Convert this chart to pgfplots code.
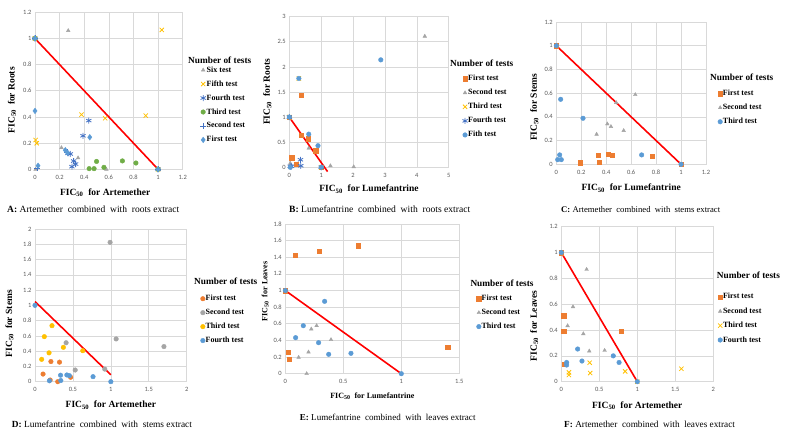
\documentclass[border=0pt]{standalone}
\usepackage{pgfplots}
\pgfplotsset{compat=1.18}
\usepackage{fontspec}
\setmainfont{Liberation Serif}
\newfontfamily\tickfont{Carlito}
\definecolor{gridc}{HTML}{D9D9D9}
\definecolor{tickc}{HTML}{595959}
\definecolor{xorange}{HTML}{ED7D31}
\definecolor{xgray}{HTML}{A5A5A5}
\definecolor{xyellow}{HTML}{FFC000}
\definecolor{xblue}{HTML}{5B9BD5}
\definecolor{xdblue}{HTML}{4472C4}
\definecolor{xgreen}{HTML}{70AD47}
\pgfplotsset{
 excel/.style={
   scale only axis, clip=false,
   grid=major, grid style={draw=gridc, line width=0.6pt},
   axis line style={draw=gridc, line width=0.6pt},
   major tick length=0pt,
   tick label style={font=\tickfont\fontsize{6.5}{7}\selectfont, text=tickc},
   /pgf/number format/assume math mode=true,
   xticklabel style={yshift=-2.5pt},
   label style={font=\bfseries\fontsize{9.5}{11}\selectfont},
   legend style={draw=none, fill=none, anchor=north west, inner sep=0pt,
     font=\bfseries\fontsize{8}{9}\selectfont, row sep=5.5pt, nodes={inner sep=0.5pt}},
   legend cell align=left,
   legend image code/.code={\draw[##1,only marks] plot coordinates {(0pt,0pt)};},
 },
 ylab/.style 2 args={ylabel style={at={(axis description cs:#1,#2)}, anchor=center}},
 xlab/.style 2 args={xlabel style={at={(axis description cs:#1,#2)}, anchor=center}},
 redline/.style={color=red, line width=1.6pt, no marks, forget plot},
 sTri/.style={only marks, mark=triangle*, mark size=2.1pt, color=xgray},
 sX/.style={only marks, mark=x, mark size=3pt, color=xyellow, mark options={line width=0.8pt}},
 sAst/.style={only marks, mark=asterisk, mark size=3pt, color=xdblue, mark options={line width=0.8pt}},
 sGreen/.style={only marks, mark=*, mark size=2.3pt, color=xgreen},
 sPlus/.style={only marks, mark=+, mark size=3pt, color=xdblue, mark options={line width=0.8pt}},
 sDia/.style={only marks, mark=diamond*, mark size=2.8pt, color=xblue},
 sSq/.style={only marks, mark=square*, mark size=2.2pt, color=xorange},
 sCirc/.style={only marks, mark=*, mark size=2.3pt, color=xblue},
 sOrC/.style={only marks, mark=*, mark size=2.3pt, color=xorange},
 sGrC/.style={only marks, mark=*, mark size=2.3pt, color=xgray},
 sYeC/.style={only marks, mark=*, mark size=2.3pt, color=xyellow},
}
\begin{document}
\begin{tikzpicture}
\path[use as bounding box] (0,0) rectangle (786pt,435pt);
% ---------------- A
\begin{axis}[excel, at={(35pt,265.7pt)}, anchor=south west, width=147.7pt, height=157pt,
  xmin=0, xmax=1.2, ymin=0, ymax=1.2, xtick={0,0.2,...,1.2}, ytick={0,0.2,...,1.2},
  xlabel={FIC\textsubscript{50}\ \ for Artemether}, ylabel={FIC\textsubscript{50}\ \ for Roots},
  ylab={-0.156}{0.44}, xlab={0.475}{-0.151},
  legend style={at={(axis description cs:1.117,0.659)}, row sep=5.9pt}]
\addplot[sTri] coordinates {(0.27,1.06) (0.215,0.165) (0.35,0.087) (0.58,0) (0.005,0) (0,1) (1,0)};
\addlegendentry{Six test}
\addplot[sX] coordinates {(1.03,1.065) (0.378,0.418) (0.57,0.39) (0.9,0.41) (0.005,0.224) (0.014,0.199) (0,1) (1,0)};
\addlegendentry{Fifth test}
\addplot[sAst] coordinates {(0.437,0.372) (0.39,0.256) (0.268,0.122) (0.287,0.117) (0.314,0.063) (0.33,0.04) (0.30,0.02) (0,1) (1,0)};
\addlegendentry{Fourth test}
\addplot[sGreen] coordinates {(0.44,0.005) (0.48,0.005) (0.50,0.06) (0.56,0.015) (0.71,0.064) (0.82,0.048) (0,1) (1,0)};
\addlegendentry{Third test}
\addplot[sPlus] coordinates {(0.26,0.13) (0.02,0.01) (0,1) (1,0)};
\addlegendentry{Second test}
\addplot[sDia] coordinates {(0,0.446) (0.445,0.245) (0.025,0.027) (0.246,0.146) (0.265,0.125) (0,1) (1,0)};
\addlegendentry{First test}
\addplot[redline] coordinates {(0,1) (1,0)};
\end{axis}
% ---------------- B
\begin{axis}[excel, at={(289.3pt,267.7pt)}, anchor=south west, width=159.4pt, height=150.6pt,
  xmin=0, xmax=5, ymin=0, ymax=3, xtick={0,1,...,5}, ytick={0,0.5,...,3},
  xlabel={FIC\textsubscript{50}\ \ for Lumefantrine}, ylabel={FIC\textsubscript{50}\ \ for Roots},
  ylab={-0.138}{0.5}, xlab={0.5}{-0.146},
  legend style={at={(axis description cs:1.085,0.616)}, row sep=6pt}]
\addplot[sSq] coordinates {(0.38,1.44) (0.367,0.643) (0.6,0.57) (0.83,0.33) (0.08,0.195) (0.21,0.06) (0,1) (1,0)};
\addlegendentry{First test}
\addplot[sTri] coordinates {(4.25,2.61) (1.29,0.03) (2.02,0.01) (0.61,0.38) (0.03,0.08) (0,1) (1,0)};
\addlegendentry{Second test}
\addplot[sX] coordinates {(0.3,1.77) (0,1) (1,0)};
\addlegendentry{Third test}
\addplot[sAst] coordinates {(0.35,0.15) (0.36,0.03) (0.03,0.02) (0.07,0.02) (0,1) (1,0)};
\addlegendentry{Fourth test}
\addplot[sCirc] coordinates {(2.87,2.14) (0.3,1.77) (0.61,0.66) (0.9,0.43) (0.03,0.0) (0,1) (1,0)};
\addlegendentry{Fith test}
\addplot[redline] coordinates {(0,1) (1.2,-0.086)};
\end{axis}
% ---------------- C
\begin{axis}[excel, at={(556.3pt,270.7pt)}, anchor=south west, width=149.7pt, height=142.3pt,
  xmin=0, xmax=1.2, ymin=0, ymax=1.2, xtick={0,0.2,...,1.2}, ytick={0,0.2,...,1.2},
  xlabel={FIC\textsubscript{50}\ \ for Lumefantrine}, ylabel={FIC\textsubscript{50}\ \ for Stems},
  ylab={-0.147}{0.40}, xlab={0.5}{-0.169},
  legend style={at={(axis description cs:1.078,0.526)}, row sep=6pt}]
\addplot[sSq] coordinates {(0.19,0.013) (0.337,0.078) (0.345,0.02) (0.417,0.086) (0.45,0.078) (0.767,0.07) (0,1) (1,0)};
\addlegendentry{First test}
\addplot[sTri] coordinates {(0.323,0.253) (0.409,0.34) (0.438,0.318) (0.48,0.52) (0.54,0.284) (0.633,0.587) (0,1) (1,0)};
\addlegendentry{Second test}
\addplot[sCirc] coordinates {(0.035,0.548) (0.214,0.388) (0.027,0.079) (0.011,0.039) (0.04,0.039) (0.684,0.079) (0,1) (1,0)};
\addlegendentry{Third test}
\addplot[redline] coordinates {(0,1) (1,0)};
\end{axis}
% ---------------- D
\begin{axis}[excel, at={(35pt,53.3pt)}, anchor=south west, width=151.7pt, height=152.7pt,
  xmin=0, xmax=2, ymin=0, ymax=2, xtick={0,0.5,...,2}, ytick={0,0.2,...,2},
  xlabel={FIC\textsubscript{50}\ \ for Artemether}, ylabel={FIC\textsubscript{50}\ \ for Stems},
  ylab={-0.169}{0.38}, xlab={0.5}{-0.153},
  legend style={at={(axis description cs:1.090,0.571)}, row sep=5.9pt}]
\addplot[sOrC] coordinates {(0.106,0.1) (0.21,0.264) (0.323,0.256) (0.2,0.022) (0.3,0) (0.47,0.058)};
\addlegendentry{First test}
\addplot[sGrC] coordinates {(0.99,1.825) (1.07,0.56) (1.7,0.46) (0.41,0.51) (0.53,0.153) (0.92,0.165)};
\addlegendentry{Second test}
\addplot[sYeC] coordinates {(0.088,0.293) (0.123,0.59) (0.185,0.378) (0.224,0.734) (0.374,0.45) (0.63,0.406)};
\addlegendentry{Third test}
\addplot[sCirc] coordinates {(0,1) (0.19,0.012) (0.337,0.085) (0.34,0.015) (0.42,0.088) (0.453,0.079) (0.765,0.066) (1,0)};
\addlegendentry{Fourth test}
\addplot[redline] coordinates {(0,1.05) (1.0,0.09)};
\end{axis}
% ---------------- E
\begin{axis}[excel, at={(285.3pt,61.3pt)}, anchor=south west, width=174pt, height=149.7pt,
  xmin=0, xmax=1.5, ymin=0, ymax=1.8, xtick={0,0.5,...,1.5}, ytick={0,0.2,...,1.8},
  label style={font=\bfseries\fontsize{8}{9.5}\selectfont},
  xlabel={FIC\textsubscript{50}\ \ for Lumefantrine}, ylabel={FIC\textsubscript{50}\ \ for Leaves},
  ylab={-0.115}{0.55}, xlab={0.5}{-0.149},
  legend style={at={(axis description cs:1.098,0.529)}, row sep=5.9pt}]
\addplot[sSq] coordinates {(0.083,1.423) (0.293,1.476) (0.626,1.54) (0.023,0.257) (0.034,0.172) (1.4,0.32) (0,1)};
\addlegendentry{First test}
\addplot[sTri] coordinates {(0.115,0.196) (0.184,0) (0.2,0.26) (0.224,0.537) (0.27,0.577) (0.394,0.409)};
\addlegendentry{Second test}
\addplot[sCirc] coordinates {(0,1) (0.339,0.87) (0.155,0.577) (0.089,0.433) (0.287,0.373) (0.374,0.233) (0.566,0.245) (1,0)};
\addlegendentry{Third test}
\addplot[redline] coordinates {(0,1) (1,0)};
\end{axis}
% ---------------- F
\begin{axis}[excel, at={(561.3pt,53.3pt)}, anchor=south west, width=152pt, height=155pt,
  xmin=0, xmax=2, ymin=0, ymax=1.2, xtick={0,0.5,...,2}, ytick={0,0.2,...,1.2},
  xlabel={FIC\textsubscript{50}\ \ for Artemether}, ylabel={FIC\textsubscript{50}\ \ for Leaves},
  ylab={-0.178}{0.36}, xlab={0.5}{-0.155},
  legend style={at={(axis description cs:1.029,0.574)}, row sep=6.3pt}]
\addplot[sSq] coordinates {(0.03,0.51) (0.03,0.39) (0.79,0.39) (0.04,0.134) (0,1)};
\addlegendentry{First test}
\addplot[sTri] coordinates {(0.333,0.869) (0.154,0.58) (0.083,0.433) (0.29,0.371) (0.368,0.237) (0.57,0.242)};
\addlegendentry{Second test}
\addplot[sX] coordinates {(0.373,0.147) (0.38,0.067) (0.1,0.072) (0.1,0.052) (0.84,0.08) (1.58,0.1) (1,0)};
\addlegendentry{Third test}
\addplot[sCirc] coordinates {(0.215,0.253) (0.07,0.149) (0.07,0.129) (0.272,0.16) (0.684,0.2) (0.76,0.149) (0,1) (1,0)};
\addlegendentry{Fourth test}
\addplot[redline] coordinates {(0,1) (1,0)};
\end{axis}
% legend titles
\tikzset{ltitle/.style={anchor=west, inner sep=0pt, font=\bfseries\fontsize{9.3}{11}\selectfont}}
\node[ltitle] at (188pt,375pt) {Number of tests};
\node[ltitle] at (450pt,372pt) {Number of tests};
\node[ltitle] at (710pt,357.3pt) {Number of tests};
\node[ltitle] at (194pt,153.3pt) {Number of tests};
\node[ltitle] at (470.3pt,151.7pt) {Number of tests};
\node[ltitle] at (716.7pt,159.7pt) {Number of tests};
% captions
\tikzset{capt/.style={anchor=west, inner sep=0pt}}
\node[capt] at (7pt,226pt) {\resizebox{172pt}{!}{\textbf{A:} Artemether\ \ combined\ \ with\ \ roots extract}};
\node[capt] at (289pt,226pt) {\resizebox{181pt}{!}{\textbf{B:} Lumefantrine\ \ combined\ \ with\ \ roots extract}};
\node[capt] at (561pt,225pt) {\resizebox{159pt}{!}{\textbf{C:} Artemether\ \ combined\ \ with\ \ stems extract}};
\node[capt] at (11.7pt,10.7pt) {\resizebox{180pt}{!}{\textbf{D:} Lumefantrine\ \ combined\ \ with\ \ stems extract}};
\node[capt] at (299.7pt,17.7pt) {\resizebox{175.6pt}{!}{\textbf{E:} Lumefantrine\ \ combined\ \ with\ \ leaves extract}};
\node[capt] at (564pt,11pt) {\resizebox{170.7pt}{!}{\textbf{F:} Artemether\ \ combined\ \ with\ \ leaves extract}};
\end{tikzpicture}
\end{document}
